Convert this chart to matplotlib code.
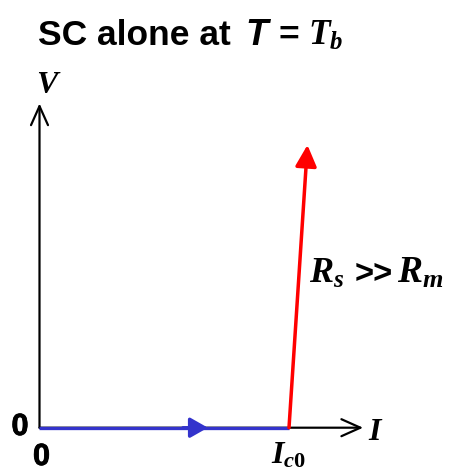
import matplotlib
matplotlib.use("Agg")
import matplotlib.pyplot as plt
import matplotlib.patheffects as pe

# I-V characteristic of the superconductor alone at bath temperature
I_c0 = 1.0
I_sc = [0.0, I_c0]          # superconducting branch (V = 0)
V_sc = [0.0, 0.0]
I_norm = [I_c0, 1.074]      # steep resistive branch above I_c0
V_norm = [0.0, 1.0]
I_axis_end = 1.297
V_axis_end = 1.147

plt.rcParams["mathtext.fontset"] = "custom"
plt.rcParams["mathtext.it"] = "Liberation Serif:bold:italic"
plt.rcParams["mathtext.rm"] = "Liberation Serif:bold"
plt.rcParams["mathtext.bf"] = "Liberation Serif:bold"

W, H = 449, 473
fig = plt.figure(figsize=(W / 100, H / 100), dpi=100)
ax = fig.add_axes([0, 0, 1, 1])
ax.axis("off")

# pixel layout of the origin and scales
ox, oy = 39.5, 427.7
sx, sy = 249.5, 282.7
ax.set_xlim(-ox / sx, (W - ox) / sx)
ax.set_ylim(-(H - oy) / sy, oy / sy)


def px(x, y):
    """figure pixel (top-left origin) -> figure fraction"""
    return x / W, 1 - y / H


pt = 72 / 100  # points per pixel

# axes with open arrowheads
axis_style = f"->,head_length={19*pt:.2f},head_width={8.5*pt:.2f}"
for tip in [(I_axis_end, 0), (0, V_axis_end)]:
    ax.annotate("", xy=tip, xytext=(0, 0),
                arrowprops=dict(arrowstyle=axis_style, lw=2.2 * pt, color="black",
                                shrinkA=0, shrinkB=0, mutation_scale=1))

# superconducting branch with mid-arrow
blue = "#3333cc"
ax.plot(I_sc, V_sc, color=blue, lw=3.3 * pt, solid_capstyle="butt", zorder=3)
mid_tip = 0.675
ax.annotate("", xy=(mid_tip, 0), xytext=(mid_tip - 0.1, 0),
            arrowprops=dict(arrowstyle=f"-|>,head_length={15*pt:.2f},head_width={8.5*pt:.2f}",
                            lw=3.3 * pt, color=blue, shrinkA=0, shrinkB=0,
                            mutation_scale=1),
            zorder=4)

# resistive branch
ax.annotate("", xy=(I_norm[1], V_norm[1]), xytext=(I_norm[0], V_norm[0]),
            arrowprops=dict(arrowstyle=f"-|>,head_length={18*pt:.2f},head_width={9*pt:.2f}",
                            lw=3.5 * pt, color="#ff0000", shrinkA=0, shrinkB=0,
                            mutation_scale=1),
            zorder=5)

# labels
sans = "Liberation Sans"
heavy = [pe.withStroke(linewidth=0.6, foreground="black")]
fig.text(*px(20, 435), "0", family=sans, weight="bold", fontsize=22,
         ha="center", va="baseline", path_effects=heavy)
fig.text(*px(41.5, 465), "0", family=sans, weight="bold", fontsize=22,
         ha="center", va="baseline", path_effects=heavy)
fig.text(*px(36, 93), r"$V$", fontsize=23, ha="left", va="baseline")
fig.text(*px(368, 440), r"$I$", fontsize=23, ha="left", va="baseline")
fig.text(*px(271, 463), r"$I_{c\mathrm{0}}$", fontsize=23, ha="left", va="baseline")
fig.text(*px(309, 283), r"$R_s$", fontsize=26, ha="left", va="baseline")
fig.text(*px(355, 283), ">>", family=sans, weight="bold", fontsize=23.5,
         ha="left", va="baseline")
fig.text(*px(397, 283), r"$R_m$", fontsize=27, ha="left", va="baseline")

# title
title_pt = 25.5
fig.text(*px(38, 45), "SC alone at", family=sans, weight="bold", fontsize=title_pt,
         ha="left", va="baseline")
fig.text(*px(245, 45), "T", family=sans, weight="bold", style="italic",
         fontsize=title_pt + 1, ha="left", va="baseline")
fig.text(*px(278, 45), "=", family=sans, weight="bold", fontsize=title_pt,
         ha="left", va="baseline")
fig.text(*px(308, 45), r"$T_b$", fontsize=title_pt, ha="left", va="baseline")

fig.savefig("out.png", dpi=100)
